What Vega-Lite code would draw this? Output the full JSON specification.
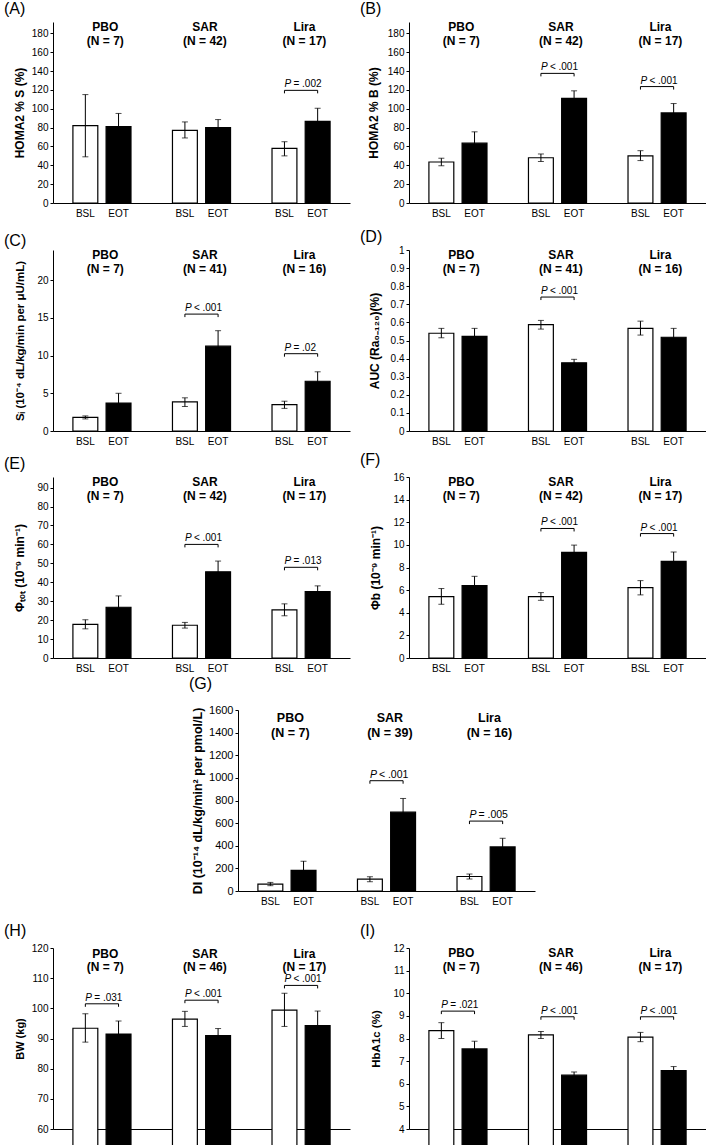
{
"$schema": "https://vega.github.io/schema/vega-lite/v6.json",
"padding": {"left": 4, "top": 1, "right": 0, "bottom": 0},
"datasets": {
"bars": [
{"panel":"A","g":"PBO","p":"BSL","m":82,"lo":49,"hi":115},{"panel":"A","g":"PBO","p":"EOT","m":81,"lo":67,"hi":95},
{"panel":"A","g":"SAR","p":"BSL","m":77,"lo":69,"hi":86},{"panel":"A","g":"SAR","p":"EOT","m":80,"lo":71.5,"hi":88.5},
{"panel":"A","g":"Lira","p":"BSL","m":58,"lo":50,"hi":65},{"panel":"A","g":"Lira","p":"EOT","m":86.5,"lo":72.5,"hi":100.5},
{"panel":"B","g":"PBO","p":"BSL","m":43.5,"lo":39.5,"hi":47.5},{"panel":"B","g":"PBO","p":"EOT","m":63.5,"lo":51.5,"hi":75.5},
{"panel":"B","g":"SAR","p":"BSL","m":48,"lo":44,"hi":52},{"panel":"B","g":"SAR","p":"EOT","m":111,"lo":103,"hi":119},
{"panel":"B","g":"Lira","p":"BSL","m":50,"lo":45,"hi":55.5},{"panel":"B","g":"Lira","p":"EOT","m":95.5,"lo":86,"hi":105.5},
{"panel":"C","g":"PBO","p":"BSL","m":1.8,"lo":1.6,"hi":2.0},{"panel":"C","g":"PBO","p":"EOT","m":3.7,"lo":2.4,"hi":5.0},
{"panel":"C","g":"SAR","p":"BSL","m":3.85,"lo":3.25,"hi":4.4},{"panel":"C","g":"SAR","p":"EOT","m":11.25,"lo":9.2,"hi":13.3},
{"panel":"C","g":"Lira","p":"BSL","m":3.5,"lo":3.0,"hi":3.95},{"panel":"C","g":"Lira","p":"EOT","m":6.6,"lo":5.3,"hi":7.85},
{"panel":"D","g":"PBO","p":"BSL","m":0.54,"lo":0.515,"hi":0.567},{"panel":"D","g":"PBO","p":"EOT","m":0.523,"lo":0.48,"hi":0.567},
{"panel":"D","g":"SAR","p":"BSL","m":0.588,"lo":0.563,"hi":0.611},{"panel":"D","g":"SAR","p":"EOT","m":0.377,"lo":0.36,"hi":0.396},
{"panel":"D","g":"Lira","p":"BSL","m":0.567,"lo":0.53,"hi":0.607},{"panel":"D","g":"Lira","p":"EOT","m":0.518,"lo":0.47,"hi":0.567},
{"panel":"E","g":"PBO","p":"BSL","m":17.8,"lo":15.4,"hi":20.2},{"panel":"E","g":"PBO","p":"EOT","m":26.8,"lo":20.8,"hi":32.8},
{"panel":"E","g":"SAR","p":"BSL","m":17.3,"lo":15.8,"hi":18.8},{"panel":"E","g":"SAR","p":"EOT","m":45.5,"lo":40,"hi":51.2},
{"panel":"E","g":"Lira","p":"BSL","m":25.4,"lo":22.3,"hi":28.6},{"panel":"E","g":"Lira","p":"EOT","m":35.1,"lo":32.1,"hi":38.1},
{"panel":"F","g":"PBO","p":"BSL","m":5.43,"lo":4.75,"hi":6.14},{"panel":"F","g":"PBO","p":"EOT","m":6.4,"lo":5.6,"hi":7.22},
{"panel":"F","g":"SAR","p":"BSL","m":5.43,"lo":5.1,"hi":5.78},{"panel":"F","g":"SAR","p":"EOT","m":9.34,"lo":8.7,"hi":9.98},
{"panel":"F","g":"Lira","p":"BSL","m":6.22,"lo":5.58,"hi":6.84},{"panel":"F","g":"Lira","p":"EOT","m":8.54,"lo":7.7,"hi":9.37},
{"panel":"G","g":"PBO","p":"BSL","m":61,"lo":47,"hi":76},{"panel":"G","g":"PBO","p":"EOT","m":182,"lo":100,"hi":264},
{"panel":"G","g":"SAR","p":"BSL","m":105,"lo":82,"hi":126},{"panel":"G","g":"SAR","p":"EOT","m":697,"lo":576,"hi":818},
{"panel":"G","g":"Lira","p":"BSL","m":128,"lo":106,"hi":150},{"panel":"G","g":"Lira","p":"EOT","m":390,"lo":314,"hi":466},
{"panel":"H","g":"PBO","p":"BSL","m":93.4,"lo":88.8,"hi":98.2},{"panel":"H","g":"PBO","p":"EOT","m":91.5,"lo":87.3,"hi":95.8},
{"panel":"H","g":"SAR","p":"BSL","m":96.4,"lo":94,"hi":99},{"panel":"H","g":"SAR","p":"EOT","m":91,"lo":88.7,"hi":93.3},
{"panel":"H","g":"Lira","p":"BSL","m":99.4,"lo":94,"hi":105},{"panel":"H","g":"Lira","p":"EOT","m":94.3,"lo":89.6,"hi":99.1},
{"panel":"I","g":"PBO","p":"BSL","m":8.35,"lo":8.0,"hi":8.7},{"panel":"I","g":"PBO","p":"EOT","m":7.54,"lo":7.2,"hi":7.88},
{"panel":"I","g":"SAR","p":"BSL","m":8.16,"lo":8.0,"hi":8.31},{"panel":"I","g":"SAR","p":"EOT","m":6.38,"lo":6.24,"hi":6.52},
{"panel":"I","g":"Lira","p":"BSL","m":8.06,"lo":7.86,"hi":8.27},{"panel":"I","g":"Lira","p":"EOT","m":6.58,"lo":6.4,"hi":6.76}
],
"groups": [
{"panel":"A","g":"PBO","n":7},{"panel":"A","g":"SAR","n":42},{"panel":"A","g":"Lira","n":17},
{"panel":"B","g":"PBO","n":7},{"panel":"B","g":"SAR","n":42},{"panel":"B","g":"Lira","n":17},
{"panel":"C","g":"PBO","n":7},{"panel":"C","g":"SAR","n":41},{"panel":"C","g":"Lira","n":16},
{"panel":"D","g":"PBO","n":7},{"panel":"D","g":"SAR","n":41},{"panel":"D","g":"Lira","n":16},
{"panel":"E","g":"PBO","n":7},{"panel":"E","g":"SAR","n":42},{"panel":"E","g":"Lira","n":17},
{"panel":"F","g":"PBO","n":7},{"panel":"F","g":"SAR","n":42},{"panel":"F","g":"Lira","n":17},
{"panel":"G","g":"PBO","n":7},{"panel":"G","g":"SAR","n":39},{"panel":"G","g":"Lira","n":16},
{"panel":"H","g":"PBO","n":7},{"panel":"H","g":"SAR","n":46},{"panel":"H","g":"Lira","n":17},
{"panel":"I","g":"PBO","n":7},{"panel":"I","g":"SAR","n":46},{"panel":"I","g":"Lira","n":17}
],
"pv": [
{"panel":"A","g":"Lira","y":119.5,"t":"= .002"},
{"panel":"B","g":"SAR","y":137.5,"t":"< .001"},{"panel":"B","g":"Lira","y":123.5,"t":"< .001"},
{"panel":"C","g":"SAR","y":15.5,"t":"< .001"},{"panel":"C","g":"Lira","y":10.25,"t":"= .02"},
{"panel":"D","g":"SAR","y":0.74,"t":"< .001"},
{"panel":"E","g":"SAR","y":60,"t":"< .001"},{"panel":"E","g":"Lira","y":47.9,"t":"= .013"},
{"panel":"F","g":"SAR","y":11.45,"t":"< .001"},{"panel":"F","g":"Lira","y":11.0,"t":"< .001"},
{"panel":"G","g":"SAR","y":975,"t":"< .001"},{"panel":"G","g":"Lira","y":618,"t":"= .005"},
{"panel":"H","g":"PBO","y":101.5,"t":"= .031"},{"panel":"H","g":"SAR","y":102.7,"t":"< .001"},{"panel":"H","g":"Lira","y":107.6,"t":"< .001"},
{"panel":"I","g":"PBO","y":9.21,"t":"= .021"},{"panel":"I","g":"SAR","y":8.96,"t":"< .001"},{"panel":"I","g":"Lira","y":8.96,"t":"< .001"}
]
},
"spacing": 17,
"vconcat": [
{"spacing": 3, "vconcat": [
{"spacing": 6, "vconcat": [
{"spacing": 11, "vconcat": [
{"spacing": 10, "hconcat": [
{"width":297,"height":181,"title":{"text":"(A)","offset":4},"layer":[
 {"data":{"name":"bars"},"transform":[{"filter":"datum.panel==='A'"},{"calculate":"datum.g+'|'+datum.p","as":"bar"}],"layer":[
  {"mark":{"type":"bar","stroke":"black","strokeWidth":1.2},"encoding":{
   "x":{"field":"bar","type":"nominal","title":null,"scale":{"domain":["PBO|BSL","PBO|EOT","g1","SAR|BSL","SAR|EOT","g2","Lira|BSL","Lira|EOT"],"paddingInner":0.25,"paddingOuter":0.6}},
   "y":{"field":"m","type":"quantitative","scale":{"domain":[0,192],"nice":false,"zero":false},"axis":{"title":"HOMA2 % S (%)","format":"d","values":[0,20,40,60,80,100,120,140,160,180],"tickCount":30,"labelOverlap":false,"titlePadding":5}},
   "fill":{"field":"p","type":"nominal","scale":{"domain":["BSL","EOT"],"range":["white","black"]},"legend":null}}},
  {"mark":{"type":"rule","color":"black","strokeWidth":1},"encoding":{"x":{"field":"bar","type":"nominal","title":null},"y":{"field":"lo","type":"quantitative"},"y2":{"field":"hi"}}},
  {"mark":{"type":"tick","color":"black","thickness":1},"encoding":{"x":{"field":"bar","type":"nominal","title":null},"y":{"field":"hi","type":"quantitative"},"size":{"value":6}}},
  {"mark":{"type":"tick","color":"black","thickness":1},"encoding":{"x":{"field":"bar","type":"nominal","title":null},"y":{"field":"lo","type":"quantitative"},"size":{"value":6}}}
 ]},
 {"data":{"name":"groups"},"transform":[{"filter":"datum.panel==='A'"},{"calculate":"datum.g+'|BSL'","as":"xb"},{"calculate":"datum.g+'\\n(N = '+datum.n+')'","as":"lab"}],
  "mark":{"type":"text","baseline":"top","dx":20,"fontSize":12,"fontWeight":"bold","lineBreak":"\n","lineHeight":14},
  "encoding":{"x":{"field":"xb","type":"nominal","title":null},"y":{"datum":192,"type":"quantitative"},"text":{"field":"lab"}}},
 {"data":{"name":"pv"},"transform":[{"filter":"datum.panel==='A'"},{"calculate":"datum.g+'|BSL'","as":"xb"},{"calculate":"datum.g+'|EOT'","as":"xe"}],"layer":[
  {"mark":{"type":"rule","color":"black","strokeWidth":1},"encoding":{"x":{"field":"xb","type":"nominal","title":null},"x2":{"field":"xe"},"y":{"field":"y","type":"quantitative"}}},
  {"transform":[{"fold":["xb","xe"],"as":["k","xv"]}],"mark":{"type":"point","shape":"M0,0L0,1","filled":false,"stroke":"black","strokeWidth":1,"size":36,"opacity":1},"encoding":{"x":{"field":"xv","type":"nominal","title":null},"y":{"field":"y","type":"quantitative"}}},
  {"mark":{"type":"text","text":"P","align":"left","baseline":"alphabetic","dy":-3,"fontSize":10,"fontStyle":"italic"},"encoding":{"x":{"field":"xb","type":"nominal","title":null},"y":{"field":"y","type":"quantitative"}}},
  {"mark":{"type":"text","align":"left","baseline":"alphabetic","dy":-3,"dx":9,"fontSize":10},"encoding":{"x":{"field":"xb","type":"nominal","title":null},"y":{"field":"y","type":"quantitative"},"text":{"field":"t"}}}
 ]}
]},
{"width":297,"height":181,"title":{"text":"(B)","offset":4},"layer":[
 {"data":{"name":"bars"},"transform":[{"filter":"datum.panel==='B'"},{"calculate":"datum.g+'|'+datum.p","as":"bar"}],"layer":[
  {"mark":{"type":"bar","stroke":"black","strokeWidth":1.2},"encoding":{
   "x":{"field":"bar","type":"nominal","title":null,"scale":{"domain":["PBO|BSL","PBO|EOT","g1","SAR|BSL","SAR|EOT","g2","Lira|BSL","Lira|EOT"],"paddingInner":0.25,"paddingOuter":0.6}},
   "y":{"field":"m","type":"quantitative","scale":{"domain":[0,192],"nice":false,"zero":false},"axis":{"title":"HOMA2 % B (%)","format":"d","values":[0,20,40,60,80,100,120,140,160,180],"tickCount":30,"labelOverlap":false,"titlePadding":7}},
   "fill":{"field":"p","type":"nominal","scale":{"domain":["BSL","EOT"],"range":["white","black"]},"legend":null}}},
  {"mark":{"type":"rule","color":"black","strokeWidth":1},"encoding":{"x":{"field":"bar","type":"nominal","title":null},"y":{"field":"lo","type":"quantitative"},"y2":{"field":"hi"}}},
  {"mark":{"type":"tick","color":"black","thickness":1},"encoding":{"x":{"field":"bar","type":"nominal","title":null},"y":{"field":"hi","type":"quantitative"},"size":{"value":6}}},
  {"mark":{"type":"tick","color":"black","thickness":1},"encoding":{"x":{"field":"bar","type":"nominal","title":null},"y":{"field":"lo","type":"quantitative"},"size":{"value":6}}}
 ]},
 {"data":{"name":"groups"},"transform":[{"filter":"datum.panel==='B'"},{"calculate":"datum.g+'|BSL'","as":"xb"},{"calculate":"datum.g+'\\n(N = '+datum.n+')'","as":"lab"}],
  "mark":{"type":"text","baseline":"top","dx":20,"fontSize":12,"fontWeight":"bold","lineBreak":"\n","lineHeight":14},
  "encoding":{"x":{"field":"xb","type":"nominal","title":null},"y":{"datum":192,"type":"quantitative"},"text":{"field":"lab"}}},
 {"data":{"name":"pv"},"transform":[{"filter":"datum.panel==='B'"},{"calculate":"datum.g+'|BSL'","as":"xb"},{"calculate":"datum.g+'|EOT'","as":"xe"}],"layer":[
  {"mark":{"type":"rule","color":"black","strokeWidth":1},"encoding":{"x":{"field":"xb","type":"nominal","title":null},"x2":{"field":"xe"},"y":{"field":"y","type":"quantitative"}}},
  {"transform":[{"fold":["xb","xe"],"as":["k","xv"]}],"mark":{"type":"point","shape":"M0,0L0,1","filled":false,"stroke":"black","strokeWidth":1,"size":36,"opacity":1},"encoding":{"x":{"field":"xv","type":"nominal","title":null},"y":{"field":"y","type":"quantitative"}}},
  {"mark":{"type":"text","text":"P","align":"left","baseline":"alphabetic","dy":-3,"fontSize":10,"fontStyle":"italic"},"encoding":{"x":{"field":"xb","type":"nominal","title":null},"y":{"field":"y","type":"quantitative"}}},
  {"mark":{"type":"text","align":"left","baseline":"alphabetic","dy":-3,"dx":9,"fontSize":10},"encoding":{"x":{"field":"xb","type":"nominal","title":null},"y":{"field":"y","type":"quantitative"},"text":{"field":"t"}}}
 ]}
]}
]},
{"spacing": 10, "hconcat": [
{"width":297,"height":181,"title":{"text":"(C)","offset":0},"layer":[
 {"data":{"name":"bars"},"transform":[{"filter":"datum.panel==='C'"},{"calculate":"datum.g+'|'+datum.p","as":"bar"}],"layer":[
  {"mark":{"type":"bar","stroke":"black","strokeWidth":1.2},"encoding":{
   "x":{"field":"bar","type":"nominal","title":null,"scale":{"domain":["PBO|BSL","PBO|EOT","g1","SAR|BSL","SAR|EOT","g2","Lira|BSL","Lira|EOT"],"paddingInner":0.25,"paddingOuter":0.6}},
   "y":{"field":"m","type":"quantitative","scale":{"domain":[0,24],"nice":false,"zero":false},"axis":{"title":"Sᵢ (10⁻⁴ dL/kg/min per μU/mL)","titleFontSize":11.5,"format":"d","values":[0,5,10,15,20],"tickCount":30,"labelOverlap":false,"titlePadding":11}},
   "fill":{"field":"p","type":"nominal","scale":{"domain":["BSL","EOT"],"range":["white","black"]},"legend":null}}},
  {"mark":{"type":"rule","color":"black","strokeWidth":1},"encoding":{"x":{"field":"bar","type":"nominal","title":null},"y":{"field":"lo","type":"quantitative"},"y2":{"field":"hi"}}},
  {"mark":{"type":"tick","color":"black","thickness":1},"encoding":{"x":{"field":"bar","type":"nominal","title":null},"y":{"field":"hi","type":"quantitative"},"size":{"value":6}}},
  {"mark":{"type":"tick","color":"black","thickness":1},"encoding":{"x":{"field":"bar","type":"nominal","title":null},"y":{"field":"lo","type":"quantitative"},"size":{"value":6}}}
 ]},
 {"data":{"name":"groups"},"transform":[{"filter":"datum.panel==='C'"},{"calculate":"datum.g+'|BSL'","as":"xb"},{"calculate":"datum.g+'\\n(N = '+datum.n+')'","as":"lab"}],
  "mark":{"type":"text","baseline":"top","dx":20,"fontSize":12,"fontWeight":"bold","lineBreak":"\n","lineHeight":14},
  "encoding":{"x":{"field":"xb","type":"nominal","title":null},"y":{"datum":24,"type":"quantitative"},"text":{"field":"lab"}}},
 {"data":{"name":"pv"},"transform":[{"filter":"datum.panel==='C'"},{"calculate":"datum.g+'|BSL'","as":"xb"},{"calculate":"datum.g+'|EOT'","as":"xe"}],"layer":[
  {"mark":{"type":"rule","color":"black","strokeWidth":1},"encoding":{"x":{"field":"xb","type":"nominal","title":null},"x2":{"field":"xe"},"y":{"field":"y","type":"quantitative"}}},
  {"transform":[{"fold":["xb","xe"],"as":["k","xv"]}],"mark":{"type":"point","shape":"M0,0L0,1","filled":false,"stroke":"black","strokeWidth":1,"size":36,"opacity":1},"encoding":{"x":{"field":"xv","type":"nominal","title":null},"y":{"field":"y","type":"quantitative"}}},
  {"mark":{"type":"text","text":"P","align":"left","baseline":"alphabetic","dy":-3,"fontSize":10,"fontStyle":"italic"},"encoding":{"x":{"field":"xb","type":"nominal","title":null},"y":{"field":"y","type":"quantitative"}}},
  {"mark":{"type":"text","align":"left","baseline":"alphabetic","dy":-3,"dx":9,"fontSize":10},"encoding":{"x":{"field":"xb","type":"nominal","title":null},"y":{"field":"y","type":"quantitative"},"text":{"field":"t"}}}
 ]}
]},
{"width":297,"height":181,"title":{"text":"(D)","offset":0},"layer":[
 {"data":{"name":"bars"},"transform":[{"filter":"datum.panel==='D'"},{"calculate":"datum.g+'|'+datum.p","as":"bar"}],"layer":[
  {"mark":{"type":"bar","stroke":"black","strokeWidth":1.2},"encoding":{
   "x":{"field":"bar","type":"nominal","title":null,"scale":{"domain":["PBO|BSL","PBO|EOT","g1","SAR|BSL","SAR|EOT","g2","Lira|BSL","Lira|EOT"],"paddingInner":0.25,"paddingOuter":0.6}},
   "y":{"field":"m","type":"quantitative","scale":{"domain":[0,1],"nice":false,"zero":false},"axis":{"title":"AUC (Ra₀₋₁₂₀)(%)","format":"~g","values":[0,0.1,0.2,0.3,0.4,0.5,0.6,0.7,0.8,0.9,1],"tickCount":30,"labelOverlap":false,"titlePadding":9}},
   "fill":{"field":"p","type":"nominal","scale":{"domain":["BSL","EOT"],"range":["white","black"]},"legend":null}}},
  {"mark":{"type":"rule","color":"black","strokeWidth":1},"encoding":{"x":{"field":"bar","type":"nominal","title":null},"y":{"field":"lo","type":"quantitative"},"y2":{"field":"hi"}}},
  {"mark":{"type":"tick","color":"black","thickness":1},"encoding":{"x":{"field":"bar","type":"nominal","title":null},"y":{"field":"hi","type":"quantitative"},"size":{"value":6}}},
  {"mark":{"type":"tick","color":"black","thickness":1},"encoding":{"x":{"field":"bar","type":"nominal","title":null},"y":{"field":"lo","type":"quantitative"},"size":{"value":6}}}
 ]},
 {"data":{"name":"groups"},"transform":[{"filter":"datum.panel==='D'"},{"calculate":"datum.g+'|BSL'","as":"xb"},{"calculate":"datum.g+'\\n(N = '+datum.n+')'","as":"lab"}],
  "mark":{"type":"text","baseline":"top","dx":20,"fontSize":12,"fontWeight":"bold","lineBreak":"\n","lineHeight":14},
  "encoding":{"x":{"field":"xb","type":"nominal","title":null},"y":{"datum":1,"type":"quantitative"},"text":{"field":"lab"}}},
 {"data":{"name":"pv"},"transform":[{"filter":"datum.panel==='D'"},{"calculate":"datum.g+'|BSL'","as":"xb"},{"calculate":"datum.g+'|EOT'","as":"xe"}],"layer":[
  {"mark":{"type":"rule","color":"black","strokeWidth":1},"encoding":{"x":{"field":"xb","type":"nominal","title":null},"x2":{"field":"xe"},"y":{"field":"y","type":"quantitative"}}},
  {"transform":[{"fold":["xb","xe"],"as":["k","xv"]}],"mark":{"type":"point","shape":"M0,0L0,1","filled":false,"stroke":"black","strokeWidth":1,"size":36,"opacity":1},"encoding":{"x":{"field":"xv","type":"nominal","title":null},"y":{"field":"y","type":"quantitative"}}},
  {"mark":{"type":"text","text":"P","align":"left","baseline":"alphabetic","dy":-3,"fontSize":10,"fontStyle":"italic"},"encoding":{"x":{"field":"xb","type":"nominal","title":null},"y":{"field":"y","type":"quantitative"}}},
  {"mark":{"type":"text","align":"left","baseline":"alphabetic","dy":-3,"dx":9,"fontSize":10},"encoding":{"x":{"field":"xb","type":"nominal","title":null},"y":{"field":"y","type":"quantitative"},"text":{"field":"t"}}}
 ]}
]}
]}
]},
{"spacing": 10, "hconcat": [
{"width":297,"height":181,"title":{"text":"(E)","offset":4},"layer":[
 {"data":{"name":"bars"},"transform":[{"filter":"datum.panel==='E'"},{"calculate":"datum.g+'|'+datum.p","as":"bar"}],"layer":[
  {"mark":{"type":"bar","stroke":"black","strokeWidth":1.2},"encoding":{
   "x":{"field":"bar","type":"nominal","title":null,"scale":{"domain":["PBO|BSL","PBO|EOT","g1","SAR|BSL","SAR|EOT","g2","Lira|BSL","Lira|EOT"],"paddingInner":0.25,"paddingOuter":0.6}},
   "y":{"field":"m","type":"quantitative","scale":{"domain":[0,95.6],"nice":false,"zero":false},"axis":{"title":"Φₜₒₜ (10⁻⁹ min⁻¹)","format":"d","values":[0,10,20,30,40,50,60,70,80,90],"tickCount":30,"labelOverlap":false,"titlePadding":10}},
   "fill":{"field":"p","type":"nominal","scale":{"domain":["BSL","EOT"],"range":["white","black"]},"legend":null}}},
  {"mark":{"type":"rule","color":"black","strokeWidth":1},"encoding":{"x":{"field":"bar","type":"nominal","title":null},"y":{"field":"lo","type":"quantitative"},"y2":{"field":"hi"}}},
  {"mark":{"type":"tick","color":"black","thickness":1},"encoding":{"x":{"field":"bar","type":"nominal","title":null},"y":{"field":"hi","type":"quantitative"},"size":{"value":6}}},
  {"mark":{"type":"tick","color":"black","thickness":1},"encoding":{"x":{"field":"bar","type":"nominal","title":null},"y":{"field":"lo","type":"quantitative"},"size":{"value":6}}}
 ]},
 {"data":{"name":"groups"},"transform":[{"filter":"datum.panel==='E'"},{"calculate":"datum.g+'|BSL'","as":"xb"},{"calculate":"datum.g+'\\n(N = '+datum.n+')'","as":"lab"}],
  "mark":{"type":"text","baseline":"top","dx":20,"fontSize":12,"fontWeight":"bold","lineBreak":"\n","lineHeight":14},
  "encoding":{"x":{"field":"xb","type":"nominal","title":null},"y":{"datum":95.6,"type":"quantitative"},"text":{"field":"lab"}}},
 {"data":{"name":"pv"},"transform":[{"filter":"datum.panel==='E'"},{"calculate":"datum.g+'|BSL'","as":"xb"},{"calculate":"datum.g+'|EOT'","as":"xe"}],"layer":[
  {"mark":{"type":"rule","color":"black","strokeWidth":1},"encoding":{"x":{"field":"xb","type":"nominal","title":null},"x2":{"field":"xe"},"y":{"field":"y","type":"quantitative"}}},
  {"transform":[{"fold":["xb","xe"],"as":["k","xv"]}],"mark":{"type":"point","shape":"M0,0L0,1","filled":false,"stroke":"black","strokeWidth":1,"size":36,"opacity":1},"encoding":{"x":{"field":"xv","type":"nominal","title":null},"y":{"field":"y","type":"quantitative"}}},
  {"mark":{"type":"text","text":"P","align":"left","baseline":"alphabetic","dy":-3,"fontSize":10,"fontStyle":"italic"},"encoding":{"x":{"field":"xb","type":"nominal","title":null},"y":{"field":"y","type":"quantitative"}}},
  {"mark":{"type":"text","align":"left","baseline":"alphabetic","dy":-3,"dx":9,"fontSize":10},"encoding":{"x":{"field":"xb","type":"nominal","title":null},"y":{"field":"y","type":"quantitative"},"text":{"field":"t"}}}
 ]}
]},
{"width":297,"height":181,"title":{"text":"(F)","offset":4},"layer":[
 {"data":{"name":"bars"},"transform":[{"filter":"datum.panel==='F'"},{"calculate":"datum.g+'|'+datum.p","as":"bar"}],"layer":[
  {"mark":{"type":"bar","stroke":"black","strokeWidth":1.2},"encoding":{
   "x":{"field":"bar","type":"nominal","title":null,"scale":{"domain":["PBO|BSL","PBO|EOT","g1","SAR|BSL","SAR|EOT","g2","Lira|BSL","Lira|EOT"],"paddingInner":0.25,"paddingOuter":0.6}},
   "y":{"field":"m","type":"quantitative","scale":{"domain":[0,16],"nice":false,"zero":false},"axis":{"title":"Φb (10⁻⁹ min⁻¹)","format":"d","values":[0,2,4,6,8,10,12,14,16],"tickCount":30,"labelOverlap":false,"titlePadding":10}},
   "fill":{"field":"p","type":"nominal","scale":{"domain":["BSL","EOT"],"range":["white","black"]},"legend":null}}},
  {"mark":{"type":"rule","color":"black","strokeWidth":1},"encoding":{"x":{"field":"bar","type":"nominal","title":null},"y":{"field":"lo","type":"quantitative"},"y2":{"field":"hi"}}},
  {"mark":{"type":"tick","color":"black","thickness":1},"encoding":{"x":{"field":"bar","type":"nominal","title":null},"y":{"field":"hi","type":"quantitative"},"size":{"value":6}}},
  {"mark":{"type":"tick","color":"black","thickness":1},"encoding":{"x":{"field":"bar","type":"nominal","title":null},"y":{"field":"lo","type":"quantitative"},"size":{"value":6}}}
 ]},
 {"data":{"name":"groups"},"transform":[{"filter":"datum.panel==='F'"},{"calculate":"datum.g+'|BSL'","as":"xb"},{"calculate":"datum.g+'\\n(N = '+datum.n+')'","as":"lab"}],
  "mark":{"type":"text","baseline":"top","dx":20,"fontSize":12,"fontWeight":"bold","lineBreak":"\n","lineHeight":14},
  "encoding":{"x":{"field":"xb","type":"nominal","title":null},"y":{"datum":16,"type":"quantitative"},"text":{"field":"lab"}}},
 {"data":{"name":"pv"},"transform":[{"filter":"datum.panel==='F'"},{"calculate":"datum.g+'|BSL'","as":"xb"},{"calculate":"datum.g+'|EOT'","as":"xe"}],"layer":[
  {"mark":{"type":"rule","color":"black","strokeWidth":1},"encoding":{"x":{"field":"xb","type":"nominal","title":null},"x2":{"field":"xe"},"y":{"field":"y","type":"quantitative"}}},
  {"transform":[{"fold":["xb","xe"],"as":["k","xv"]}],"mark":{"type":"point","shape":"M0,0L0,1","filled":false,"stroke":"black","strokeWidth":1,"size":36,"opacity":1},"encoding":{"x":{"field":"xv","type":"nominal","title":null},"y":{"field":"y","type":"quantitative"}}},
  {"mark":{"type":"text","text":"P","align":"left","baseline":"alphabetic","dy":-3,"fontSize":10,"fontStyle":"italic"},"encoding":{"x":{"field":"xb","type":"nominal","title":null},"y":{"field":"y","type":"quantitative"}}},
  {"mark":{"type":"text","align":"left","baseline":"alphabetic","dy":-3,"dx":9,"fontSize":10},"encoding":{"x":{"field":"xb","type":"nominal","title":null},"y":{"field":"y","type":"quantitative"},"text":{"field":"t"}}}
 ]}
]}
]}
]},
{"spacing": 11, "hconcat": [
{"width":125,"height":1,"data":{"values":[{"s":1}]},"mark":{"type":"rule","opacity":0},"encoding":{"x":{"datum":0,"type":"quantitative","scale":{"domain":[0,1]},"axis":null},"x2":{"datum":1}}},
{"width":297,"height":181,"title":{"text":"(G)","offset":12},"layer":[
 {"data":{"name":"bars"},"transform":[{"filter":"datum.panel==='G'"},{"calculate":"datum.g+'|'+datum.p","as":"bar"}],"layer":[
  {"mark":{"type":"bar","stroke":"black","strokeWidth":1.2},"encoding":{
   "x":{"field":"bar","type":"nominal","title":null,"scale":{"domain":["PBO|BSL","PBO|EOT","g1","SAR|BSL","SAR|EOT","g2","Lira|BSL","Lira|EOT"],"paddingInner":0.25,"paddingOuter":0.6}},
   "y":{"field":"m","type":"quantitative","scale":{"domain":[0,1600],"nice":false,"zero":false},"axis":{"title":"DI (10⁻¹⁴ dL/kg/min² per pmol/L)","titleFontSize":12.5,"labelFontSize":11,"format":"d","values":[0,200,400,600,800,1000,1200,1400,1600],"tickCount":30,"labelOverlap":false,"titlePadding":4}},
   "fill":{"field":"p","type":"nominal","scale":{"domain":["BSL","EOT"],"range":["white","black"]},"legend":null}}},
  {"mark":{"type":"rule","color":"black","strokeWidth":1},"encoding":{"x":{"field":"bar","type":"nominal","title":null},"y":{"field":"lo","type":"quantitative"},"y2":{"field":"hi"}}},
  {"mark":{"type":"tick","color":"black","thickness":1},"encoding":{"x":{"field":"bar","type":"nominal","title":null},"y":{"field":"hi","type":"quantitative"},"size":{"value":6}}},
  {"mark":{"type":"tick","color":"black","thickness":1},"encoding":{"x":{"field":"bar","type":"nominal","title":null},"y":{"field":"lo","type":"quantitative"},"size":{"value":6}}}
 ]},
 {"data":{"name":"groups"},"transform":[{"filter":"datum.panel==='G'"},{"calculate":"datum.g+'|BSL'","as":"xb"},{"calculate":"datum.g+'\\n(N = '+datum.n+')'","as":"lab"}],
  "mark":{"type":"text","baseline":"top","dx":20,"dy":2,"fontSize":12.5,"fontWeight":"bold","lineBreak":"\n","lineHeight":15},
  "encoding":{"x":{"field":"xb","type":"nominal","title":null},"y":{"datum":1600,"type":"quantitative"},"text":{"field":"lab"}}},
 {"data":{"name":"pv"},"transform":[{"filter":"datum.panel==='G'"},{"calculate":"datum.g+'|BSL'","as":"xb"},{"calculate":"datum.g+'|EOT'","as":"xe"}],"layer":[
  {"mark":{"type":"rule","color":"black","strokeWidth":1},"encoding":{"x":{"field":"xb","type":"nominal","title":null},"x2":{"field":"xe"},"y":{"field":"y","type":"quantitative"}}},
  {"transform":[{"fold":["xb","xe"],"as":["k","xv"]}],"mark":{"type":"point","shape":"M0,0L0,1","filled":false,"stroke":"black","strokeWidth":1,"size":36,"opacity":1},"encoding":{"x":{"field":"xv","type":"nominal","title":null},"y":{"field":"y","type":"quantitative"}}},
  {"mark":{"type":"text","text":"P","align":"left","baseline":"alphabetic","dy":-3,"fontSize":10.5,"fontStyle":"italic"},"encoding":{"x":{"field":"xb","type":"nominal","title":null},"y":{"field":"y","type":"quantitative"}}},
  {"mark":{"type":"text","align":"left","baseline":"alphabetic","dy":-3,"dx":9,"fontSize":10.5},"encoding":{"x":{"field":"xb","type":"nominal","title":null},"y":{"field":"y","type":"quantitative"},"text":{"field":"t"}}}
 ]}
]}
]}
]},
{"spacing": 10, "hconcat": [
{"width":297,"height":181,"title":{"text":"(H)","offset":4},"layer":[
 {"data":{"name":"bars"},"transform":[{"filter":"datum.panel==='H'"},{"calculate":"datum.g+'|'+datum.p","as":"bar"}],"layer":[
  {"mark":{"type":"bar","stroke":"black","strokeWidth":1.2},"encoding":{
   "x":{"field":"bar","type":"nominal","title":null,"scale":{"domain":["PBO|BSL","PBO|EOT","g1","SAR|BSL","SAR|EOT","g2","Lira|BSL","Lira|EOT"],"paddingInner":0.25,"paddingOuter":0.6}},
   "y":{"field":"m","type":"quantitative","scale":{"domain":[60,120],"nice":false,"zero":false},"axis":{"title":"BW (kg)","titleFontSize":11,"format":"d","values":[60,70,80,90,100,110,120],"tickCount":30,"labelOverlap":false,"titlePadding":6}},
   "fill":{"field":"p","type":"nominal","scale":{"domain":["BSL","EOT"],"range":["white","black"]},"legend":null}}},
  {"mark":{"type":"rule","color":"black","strokeWidth":1},"encoding":{"x":{"field":"bar","type":"nominal","title":null},"y":{"field":"lo","type":"quantitative"},"y2":{"field":"hi"}}},
  {"mark":{"type":"tick","color":"black","thickness":1},"encoding":{"x":{"field":"bar","type":"nominal","title":null},"y":{"field":"hi","type":"quantitative"},"size":{"value":6}}},
  {"mark":{"type":"tick","color":"black","thickness":1},"encoding":{"x":{"field":"bar","type":"nominal","title":null},"y":{"field":"lo","type":"quantitative"},"size":{"value":6}}}
 ]},
 {"data":{"name":"groups"},"transform":[{"filter":"datum.panel==='H'"},{"calculate":"datum.g+'|BSL'","as":"xb"},{"calculate":"datum.g+'\\n(N = '+datum.n+')'","as":"lab"}],
  "mark":{"type":"text","baseline":"top","dx":20,"dy":1,"fontSize":12,"fontWeight":"bold","lineBreak":"\n","lineHeight":13},
  "encoding":{"x":{"field":"xb","type":"nominal","title":null},"y":{"datum":120,"type":"quantitative"},"text":{"field":"lab"}}},
 {"data":{"name":"pv"},"transform":[{"filter":"datum.panel==='H'"},{"calculate":"datum.g+'|BSL'","as":"xb"},{"calculate":"datum.g+'|EOT'","as":"xe"}],"layer":[
  {"mark":{"type":"rule","color":"black","strokeWidth":1},"encoding":{"x":{"field":"xb","type":"nominal","title":null},"x2":{"field":"xe"},"y":{"field":"y","type":"quantitative"}}},
  {"transform":[{"fold":["xb","xe"],"as":["k","xv"]}],"mark":{"type":"point","shape":"M0,0L0,1","filled":false,"stroke":"black","strokeWidth":1,"size":36,"opacity":1},"encoding":{"x":{"field":"xv","type":"nominal","title":null},"y":{"field":"y","type":"quantitative"}}},
  {"mark":{"type":"text","text":"P","align":"left","baseline":"alphabetic","dy":-3,"fontSize":10,"fontStyle":"italic"},"encoding":{"x":{"field":"xb","type":"nominal","title":null},"y":{"field":"y","type":"quantitative"}}},
  {"mark":{"type":"text","align":"left","baseline":"alphabetic","dy":-3,"dx":9,"fontSize":10},"encoding":{"x":{"field":"xb","type":"nominal","title":null},"y":{"field":"y","type":"quantitative"},"text":{"field":"t"}}}
 ]}
]},
{"width":297,"height":181,"title":{"text":"(I)","offset":4},"layer":[
 {"data":{"name":"bars"},"transform":[{"filter":"datum.panel==='I'"},{"calculate":"datum.g+'|'+datum.p","as":"bar"}],"layer":[
  {"mark":{"type":"bar","stroke":"black","strokeWidth":1.2},"encoding":{
   "x":{"field":"bar","type":"nominal","title":null,"scale":{"domain":["PBO|BSL","PBO|EOT","g1","SAR|BSL","SAR|EOT","g2","Lira|BSL","Lira|EOT"],"paddingInner":0.25,"paddingOuter":0.6}},
   "y":{"field":"m","type":"quantitative","scale":{"domain":[4,12],"nice":false,"zero":false},"axis":{"title":"HbA1c (%)","titleFontSize":11.5,"format":"d","values":[4,5,6,7,8,9,10,11,12],"tickCount":30,"labelOverlap":false,"titlePadding":11}},
   "fill":{"field":"p","type":"nominal","scale":{"domain":["BSL","EOT"],"range":["white","black"]},"legend":null}}},
  {"mark":{"type":"rule","color":"black","strokeWidth":1},"encoding":{"x":{"field":"bar","type":"nominal","title":null},"y":{"field":"lo","type":"quantitative"},"y2":{"field":"hi"}}},
  {"mark":{"type":"tick","color":"black","thickness":1},"encoding":{"x":{"field":"bar","type":"nominal","title":null},"y":{"field":"hi","type":"quantitative"},"size":{"value":6}}},
  {"mark":{"type":"tick","color":"black","thickness":1},"encoding":{"x":{"field":"bar","type":"nominal","title":null},"y":{"field":"lo","type":"quantitative"},"size":{"value":6}}}
 ]},
 {"data":{"name":"groups"},"transform":[{"filter":"datum.panel==='I'"},{"calculate":"datum.g+'|BSL'","as":"xb"},{"calculate":"datum.g+'\\n(N = '+datum.n+')'","as":"lab"}],
  "mark":{"type":"text","baseline":"top","dx":20,"fontSize":12,"fontWeight":"bold","lineBreak":"\n","lineHeight":14},
  "encoding":{"x":{"field":"xb","type":"nominal","title":null},"y":{"datum":12,"type":"quantitative"},"text":{"field":"lab"}}},
 {"data":{"name":"pv"},"transform":[{"filter":"datum.panel==='I'"},{"calculate":"datum.g+'|BSL'","as":"xb"},{"calculate":"datum.g+'|EOT'","as":"xe"}],"layer":[
  {"mark":{"type":"rule","color":"black","strokeWidth":1},"encoding":{"x":{"field":"xb","type":"nominal","title":null},"x2":{"field":"xe"},"y":{"field":"y","type":"quantitative"}}},
  {"transform":[{"fold":["xb","xe"],"as":["k","xv"]}],"mark":{"type":"point","shape":"M0,0L0,1","filled":false,"stroke":"black","strokeWidth":1,"size":36,"opacity":1},"encoding":{"x":{"field":"xv","type":"nominal","title":null},"y":{"field":"y","type":"quantitative"}}},
  {"mark":{"type":"text","text":"P","align":"left","baseline":"alphabetic","dy":-3,"fontSize":10,"fontStyle":"italic"},"encoding":{"x":{"field":"xb","type":"nominal","title":null},"y":{"field":"y","type":"quantitative"}}},
  {"mark":{"type":"text","align":"left","baseline":"alphabetic","dy":-3,"dx":9,"fontSize":10},"encoding":{"x":{"field":"xb","type":"nominal","title":null},"y":{"field":"y","type":"quantitative"},"text":{"field":"t"}}}
 ]}
]}
]}
],
"config": {
 "font": "Liberation Sans",
 "view": {"stroke": null},
 "axis": {"domainColor": "black", "domainWidth": 1, "tickColor": "black", "labelColor": "black", "titleColor": "black", "grid": false, "labelFont": "Liberation Sans", "titleFont": "Liberation Sans"},
 "axisX": {"ticks": false, "labelFontSize": 10, "labelPadding": 5, "labelAngle": 0, "labelExpr": "indexof(datum.value,'|')>0 ? split(datum.value,'|')[1] : ''"},
 "axisY": {"tickSize": 3, "tickCount": 30, "labelFontSize": 10, "labelPadding": 2, "labelFlush": false, "labelOverlap": false, "titleFontSize": 12, "titleFontWeight": "bold"},
 "title": {"anchor": "start", "frame": "group", "fontSize": 16, "fontWeight": "normal", "dx": -49, "baseline": "alphabetic", "color": "black", "font": "Liberation Sans"},
 "text": {"color": "black", "font": "Liberation Sans"}
}
}
